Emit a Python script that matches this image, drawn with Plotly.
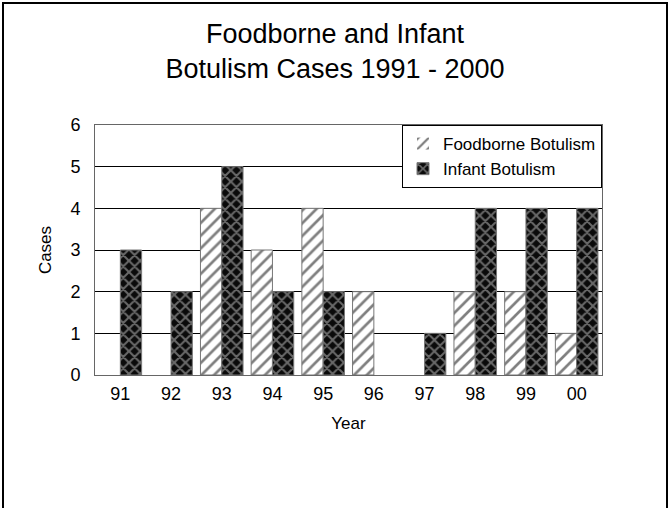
import plotly.graph_objects as go

# Data
years = ["91", "92", "93", "94", "95", "96", "97", "98", "99", "00"]
foodborne = [0, 0, 4, 3, 4, 2, 0, 2, 2, 1]
infant = [3, 2, 5, 2, 2, 0, 1, 4, 4, 4]

W, H = 670, 508
ML, MR, MT, MB = 95, 68, 125, 133
pw = W - ML - MR
ph = H - MT - MB


def outline(values):
    # hide the outline of empty bars
    return [0 if v == 0 else 1 for v in values]


fig = go.Figure()
fig.add_trace(
    go.Bar(
        name="Foodborne Botulism",
        x=years,
        y=foodborne,
        marker={
            "color": "white",
            "line": {"color": "#777777", "width": outline(foodborne)},
            "pattern": {"shape": "/", "fgcolor": "black", "bgcolor": "white",
                        "size": 9, "solidity": 0.3},
        },
    )
)
fig.add_trace(
    go.Bar(
        name="Infant Botulism",
        x=years,
        y=infant,
        marker={
            "color": "#111111",
            "line": {"color": "#777777", "width": outline(infant)},
            "pattern": {"shape": "x", "fgcolor": "#c8c8c8", "bgcolor": "#0a0a0a",
                        "size": 8, "solidity": 0.45},
        },
    )
)

# Border around the whole figure
fig.add_shape(
    type="rect",
    xref="paper",
    yref="paper",
    x0=(3 - ML) / pw,
    x1=(667 - ML) / pw,
    y0=-(512 - MT - ph) / ph,
    y1=1 + (MT - 3) / ph,
    line={"color": "black", "width": 2},
    layer="below",
)

fig.update_layout(
    width=W,
    height=H,
    barmode="group",
    bargap=0.16,
    bargroupgap=0,
    title={
        "text": "Foodborne and Infant<br>Botulism Cases 1991 - 2000",
        "x": 0.5,
        "xanchor": "center",
        "y": 0.915,
        "yanchor": "top",
        "font": {"size": 27, "color": "black"},
    },
    font={"family": "Liberation Sans, Arial, sans-serif", "size": 17, "color": "black"},
    plot_bgcolor="white",
    paper_bgcolor="white",
    margin={"l": ML, "r": MR, "t": MT, "b": MB},
    legend={
        "x": 1,
        "xanchor": "right",
        "y": 1,
        "yanchor": "top",
        "bordercolor": "black",
        "borderwidth": 1,
        "bgcolor": "white",
        "font": {"size": 17},
        "itemwidth": 30,
        "tracegroupgap": 0,
    },
    xaxis={
        "title": {"text": "Year", "font": {"size": 17}, "standoff": 14},
        "showline": True,
        "linecolor": "#666666",
        "mirror": True,
        "ticks": "",
        "ticklabelstandoff": 2,
        "tickfont": {"size": 18},
    },
    yaxis={
        "title": {"text": "Cases", "font": {"size": 17}, "standoff": 14},
        "range": [0, 6],
        "dtick": 1,
        "showgrid": True,
        "gridcolor": "black",
        "showline": True,
        "linecolor": "#666666",
        "mirror": True,
        "ticks": "",
        "ticklabelstandoff": 10,
        "tickfont": {"size": 18},
        "zeroline": False,
    },
)

fig.write_html(
    "out.html",
    config={"displayModeBar": False},
    post_script="document.body.style.margin = '0';",
)
